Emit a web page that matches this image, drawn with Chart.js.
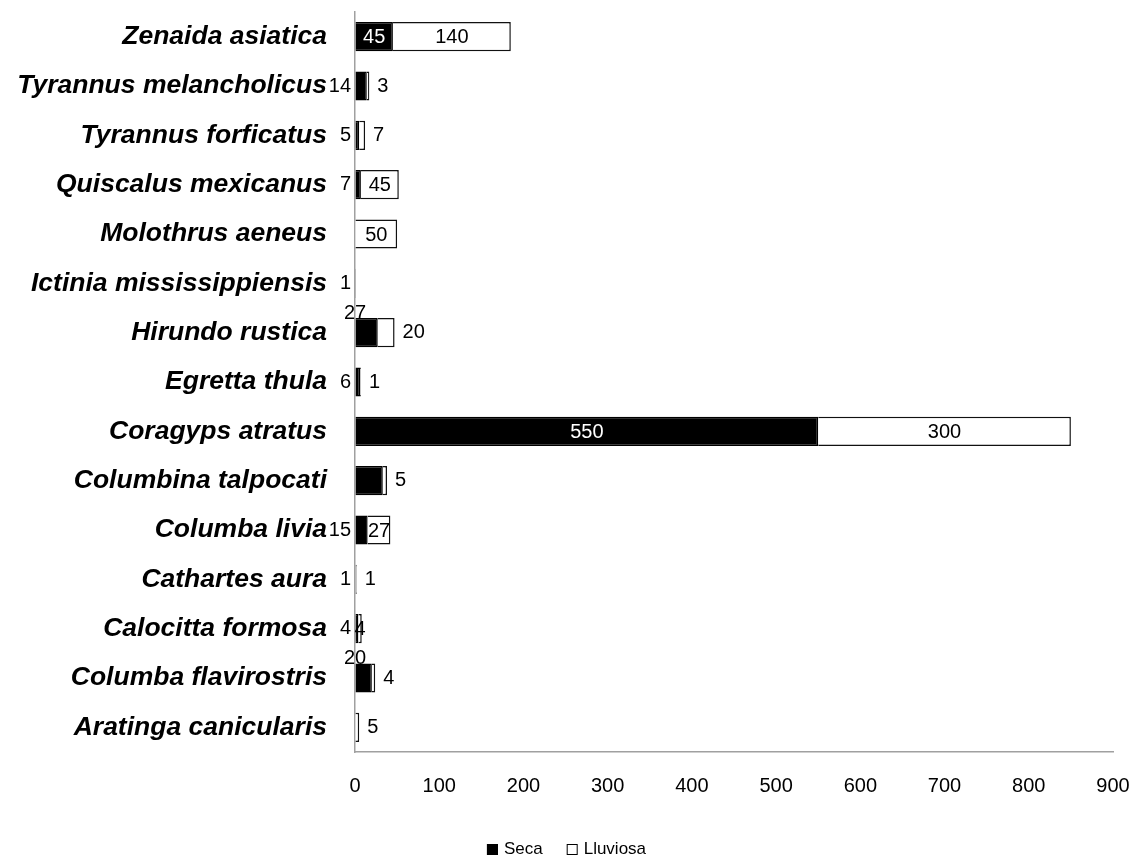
<!DOCTYPE html>
<html>
<head>
<meta charset="utf-8">
<script src="https://cdn.jsdelivr.net/npm/chart.js@4"></script>
<style>
    body { margin: 0; background: #fff; }
    #wrap { width: 1133px; height: 856px; position: relative; }
</style>
</head>
<body>
<div id="wrap"><canvas id="myGraph"></canvas></div>
<script>
// Especies (de arriba hacia abajo)
const species = [
    "Zenaida asiatica",
    "Tyrannus melancholicus",
    "Tyrannus forficatus",
    "Quiscalus mexicanus",
    "Molothrus aeneus",
    "Ictinia mississippiensis",
    "Hirundo rustica",
    "Egretta thula",
    "Coragyps atratus",
    "Columbina talpocati",
    "Columba livia",
    "Cathartes aura",
    "Calocitta formosa",
    "Columba flavirostris",
    "Aratinga canicularis",
];

// Valores por temporada
const seca = [45, 14, 5, 7, null, 1, 27, 6, 550, 33, 15, 1, 4, 20, null];
const lluviosa = [140, 3, 7, 45, 50, null, 20, 1, 300, 5, 27, 1, 4, 4, 5];

// Ticks del eje x
const xTicks = [0, 100, 200, 300, 400, 500, 600, 700, 800, 900];

// Donde va cada etiqueta de dato (in / left / right / above / none)
const secaLabelPos = ["in", "left", "left", "left", "none", "left", "above", "left", "in", "none", "left", "left", "left", "above", "none"];
const lluviosaLabelPos = ["in", "right", "right", "in", "in", "none", "right", "right", "in", "right", "in", "right", "in", "right", "right"];

const labelFont = "20px 'Liberation Sans', Arial, sans-serif";

// Plugin para dibujar las etiquetas de datos
const dataLabels = {
    id: "dataLabels",
    afterDatasetsDraw(chart) {
        const ctx = chart.ctx;
        const area = chart.chartArea;
        const positions = [secaLabelPos, lluviosaLabelPos];
        ctx.save();
        ctx.font = labelFont;
        chart.data.datasets.forEach((ds, d) => {
            const meta = chart.getDatasetMeta(d);
            meta.data.forEach((bar, i) => {
                const value = ds.data[i];
                const pos = positions[d][i];
                if (value === null || pos === "none") return;
                const top = bar.y - bar.height / 2;
                ctx.fillStyle = "#000";
                ctx.textBaseline = "middle";
                if (pos === "in") {
                    ctx.textAlign = "center";
                    ctx.fillStyle = d === 0 ? "#fff" : "#000";
                    ctx.fillText(value, (bar.x + bar.base) / 2, bar.y + 1);
                } else if (pos === "left") {
                    ctx.textAlign = "right";
                    ctx.fillText(value, area.left - 4, bar.y);
                } else if (pos === "right") {
                    ctx.textAlign = "left";
                    ctx.fillText(value, bar.x + 8, bar.y);
                } else if (pos === "above") {
                    ctx.textAlign = "center";
                    ctx.fillText(value, area.left, top - 5);
                }
            });
        });
        ctx.restore();
    },
};

// Plugin para la leyenda de abajo
const bottomLegend = {
    id: "bottomLegend",
    afterDraw(chart) {
        const ctx = chart.ctx;
        const y = 849;
        const items = chart.data.datasets.map((ds) => ({ text: ds.label, fill: ds.backgroundColor }));
        ctx.save();
        ctx.font = "17px 'Liberation Sans', Arial, sans-serif";
        ctx.textBaseline = "middle";
        ctx.textAlign = "left";
        const gap = 24;
        let total = 0;
        items.forEach((it, k) => {
            total += 11 + 6 + ctx.measureText(it.text).width + (k < items.length - 1 ? gap : 0);
        });
        let x = chart.width / 2 - total / 2;
        items.forEach((it) => {
            ctx.fillStyle = it.fill;
            ctx.fillRect(x, y - 5, 11, 11);
            ctx.strokeStyle = "#000";
            ctx.lineWidth = 1;
            ctx.strokeRect(x + 0.5, y - 4.5, 10, 10);
            ctx.fillStyle = "#000";
            ctx.fillText(it.text, x + 17, y);
            x += 17 + ctx.measureText(it.text).width + gap;
        });
        ctx.restore();
    },
};

const ctx = document.getElementById("myGraph").getContext("2d");

const myGraph = new Chart(ctx, {
    type: "bar",
    data: {
        labels: species,
        datasets: [
            {
                label: "Seca",
                data: seca,
                backgroundColor: "#000",
                borderColor: "#000",
                borderWidth: 1.5,
            },
            {
                label: "Lluviosa",
                data: lluviosa,
                backgroundColor: "#fff",
                borderColor: "#111",
                borderWidth: 1.5,
            },
        ],
    },
    options: {
        indexAxis: "y",
        responsive: true,
        maintainAspectRatio: false,
        animation: false,
        categoryPercentage: 1,
        barPercentage: 0.59,
        layout: { padding: { top: 12, right: 20, bottom: 54, left: 0 } },
        plugins: {
            legend: { display: false },
            tooltip: { enabled: false },
        },
        scales: {
            x: {
                stacked: true,
                min: 0,
                max: 900,
                afterBuildTicks: (scale) => {
                    scale.ticks = xTicks.map((v) => ({ value: v }));
                },
                afterFit: (scale) => {
                    scale.height = 50;
                    scale.paddingLeft = 0;
                    scale.paddingRight = 0;
                },
                grid: { drawOnChartArea: false, drawTicks: false },
                border: { display: true, color: "#a0a0a0", width: 1.5 },
                ticks: {
                    padding: 22,
                    color: "#000",
                    font: { size: 20, family: "'Liberation Sans', Arial, sans-serif" },
                },
            },
            y: {
                stacked: true,
                afterFit: (scale) => {
                    scale.width = 355;
                    scale.paddingTop = 0;
                    scale.paddingBottom = 0;
                },
                grid: { drawOnChartArea: false, drawTicks: false },
                border: { display: true, color: "#a0a0a0", width: 1.5 },
                ticks: {
                    padding: 28,
                    color: "#000",
                    font: { size: 26.5, weight: "bold", style: "italic", family: "'Liberation Sans', Arial, sans-serif" },
                },
            },
        },
    },
    plugins: [dataLabels, bottomLegend],
});
</script>
</body>
</html>
